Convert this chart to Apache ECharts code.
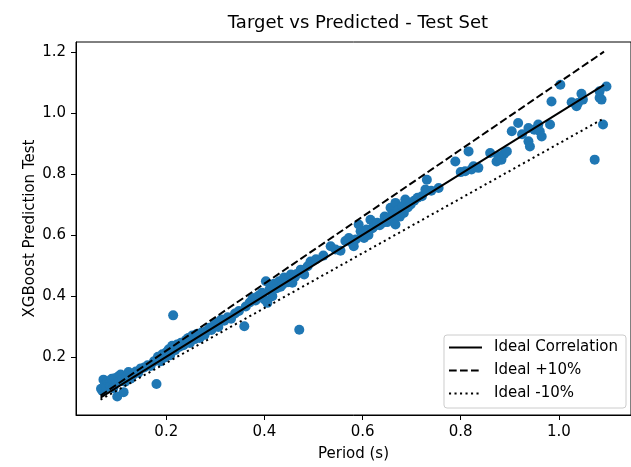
<!DOCTYPE html>
<html>
<head>
<meta charset="utf-8">
<script src="https://cdn.jsdelivr.net/npm/echarts@6/dist/echarts.min.js"></script>
<style>
  html, body { margin: 0; padding: 0; background: #fff; }
  #chart { width: 631px; height: 467px; }
</style>
</head>
<body>
<div id="chart"></div>
<script>
// Test-set samples: target period (s) and XGBoost prediction
const targetPeriod = [
  0.067, 0.070, 0.072, 0.075, 0.078, 0.080, 0.083, 0.086, 0.089, 0.092,
  0.095, 0.098, 0.100, 0.102, 0.105, 0.107, 0.110, 0.113, 0.116, 0.119,
  0.123, 0.127, 0.132, 0.138, 0.143, 0.148, 0.155, 0.162, 0.168, 0.175,
  0.180, 0.183, 0.188, 0.192, 0.197,
  0.200, 0.205, 0.208, 0.212, 0.214, 0.218, 0.222, 0.226, 0.230, 0.235,
  0.240, 0.245, 0.248, 0.253, 0.258, 0.262, 0.268, 0.272, 0.278, 0.282,
  0.288, 0.292, 0.298, 0.302, 0.306, 0.312, 0.318, 0.325, 0.332, 0.340,
  0.348, 0.359, 0.362, 0.370, 0.376, 0.382, 0.388, 0.395,
  0.400, 0.403, 0.406, 0.410, 0.416, 0.416, 0.420, 0.425, 0.430, 0.433,
  0.437, 0.440, 0.444, 0.448, 0.454, 0.457, 0.462, 0.466, 0.471, 0.474,
  0.478, 0.481, 0.488, 0.494,
  0.505, 0.520, 0.535, 0.545, 0.555, 0.565, 0.572, 0.578, 0.582, 0.586,
  0.592, 0.596, 0.600,
  0.603, 0.608, 0.612, 0.616, 0.620, 0.623, 0.630, 0.635, 0.640, 0.645,
  0.650, 0.653, 0.657, 0.660, 0.664, 0.667, 0.667, 0.672, 0.676, 0.681,
  0.684, 0.687, 0.692, 0.698,
  0.705, 0.712, 0.721, 0.728, 0.731, 0.740, 0.755, 0.789,
  0.800, 0.809, 0.816, 0.822, 0.826, 0.836, 0.860, 0.873, 0.877, 0.883,
  0.888, 0.894,
  0.904, 0.917, 0.925, 0.938, 0.938, 0.941, 0.950, 0.958, 0.961, 0.965,
  0.982, 0.985,
  1.003, 1.026, 1.036, 1.039, 1.046, 1.049, 1.073, 1.083, 1.083, 1.087,
  1.090, 1.097
];
const predictedPeriod = [
  0.095, 0.088, 0.125, 0.110, 0.100, 0.120, 0.112, 0.105, 0.128, 0.097,
  0.130, 0.115, 0.070, 0.135, 0.120, 0.142, 0.125, 0.084, 0.118, 0.135,
  0.150, 0.128, 0.140, 0.152, 0.148, 0.162, 0.165, 0.172, 0.170, 0.185,
  0.111, 0.200, 0.185, 0.208, 0.198,
  0.215, 0.225, 0.205, 0.236, 0.336, 0.222, 0.240, 0.232, 0.246, 0.238,
  0.255, 0.262, 0.245, 0.270, 0.258, 0.275, 0.262, 0.280, 0.272, 0.285,
  0.295, 0.288, 0.305, 0.312, 0.298, 0.322, 0.318, 0.330, 0.325, 0.342,
  0.350, 0.300, 0.365, 0.378, 0.393, 0.385, 0.400, 0.410,
  0.388, 0.448, 0.377, 0.420, 0.399, 0.431, 0.440, 0.425, 0.448, 0.430,
  0.437, 0.460, 0.453, 0.445, 0.470, 0.443, 0.462, 0.472, 0.289, 0.486,
  0.478, 0.470, 0.497, 0.513,
  0.520, 0.532, 0.563, 0.552, 0.548, 0.580, 0.590, 0.575, 0.563, 0.585,
  0.634, 0.612, 0.598,
  0.590, 0.618, 0.600, 0.650, 0.622, 0.628, 0.640, 0.632, 0.639, 0.660,
  0.642, 0.656, 0.689, 0.667, 0.650, 0.634, 0.705, 0.680, 0.660, 0.694,
  0.672, 0.716, 0.690, 0.700,
  0.712, 0.722, 0.727, 0.749, 0.781, 0.745, 0.754, 0.841,
  0.806, 0.809, 0.874, 0.815, 0.825, 0.820, 0.869, 0.841, 0.858, 0.847,
  0.865, 0.874,
  0.940, 0.967, 0.930, 0.951, 0.907, 0.890, 0.945, 0.962, 0.940, 0.923,
  0.962, 1.038,
  1.093, 1.035, 1.022, 1.033, 1.063, 1.044, 0.847, 1.050, 1.071, 1.044,
  0.962, 1.087
];

// Reference lines: end points over the target range
const lineX = [0.066, 1.092];
const idealY = [0.066, 1.092];
const plusTenY = [0.0726, 1.2012];
const minusTenY = [0.0594, 0.9828];

const xTicks = [0.2, 0.4, 0.6, 0.8, 1.0];
const yTicks = [0.2, 0.4, 0.6, 0.8, 1.0, 1.2];

const seriesNames = ['Ideal Correlation', 'Ideal +10%', 'Ideal -10%'];

const FONT = 'DejaVu Sans';
const pairs = (xs, ys) => xs.map((x, i) => [x, ys[i]]);

const chart = echarts.init(document.getElementById('chart'), null, { renderer: 'canvas' });

const tickAxis = (ticks, name, nameGap, range) => ({
  type: 'value',
  min: range[0],
  max: range[1],
  name: name,
  nameLocation: 'middle',
  nameGap: nameGap,
  nameMoveOverlap: false,
  nameTextStyle: { fontFamily: FONT, fontSize: 15, color: '#000' },
  axisLine: { show: true, lineStyle: { color: '#000', width: 1 } },
  axisTick: { show: true, length: 5, lineStyle: { color: '#000', width: 1 }, customValues: ticks },
  axisLabel: {
    fontFamily: FONT, fontSize: 15, color: '#000', margin: 10,
    customValues: ticks,
    formatter: v => Number(v).toFixed(1)
  },
  splitLine: { show: false }
});

chart.setOption({
  animation: false,
  backgroundColor: '#fff',
  title: {
    text: 'Target vs Predicted - Test Set',
    left: 353,
    textAlign: 'center',
    top: 9,
    textStyle: { fontFamily: FONT, fontSize: 18, fontWeight: 'normal', color: '#000' }
  },
  grid: {
    left: 76, right: -2, top: 42, bottom: 52,
    show: true, borderColor: '#000', borderWidth: 1, backgroundColor: 'transparent'
  },
  xAxis: tickAxis(xTicks, 'Period (s)', 32, [0.016, 1.147]),
  yAxis: tickAxis(yTicks, 'XGBoost Prediction Test', 38, [0.009, 1.233]),
  legend: {
    data: seriesNames,
    orient: 'vertical',
    right: 5,
    top: 335,
    padding: [5, 8, 7, 4],
    itemWidth: 33,
    itemHeight: 15,
    itemGap: 8,
    itemStyle: { opacity: 0 },
    backgroundColor: 'rgba(255,255,255,0.8)',
    borderColor: '#cccccc',
    borderWidth: 1,
    borderRadius: 3,
    textStyle: { fontFamily: FONT, fontSize: 15, color: '#000', padding: [0, 0, 0, 7] }
  },
  series: [
    {
      type: 'scatter',
      name: 'Test',
      data: pairs(targetPeriod, predictedPeriod),
      symbol: 'circle',
      symbolSize: 10,
      itemStyle: { color: '#1f77b4', opacity: 1 },
      z: 2
    },
    {
      type: 'line',
      name: seriesNames[0],
      data: pairs(lineX, idealY),
      symbol: 'none',
      lineStyle: { color: '#000', width: 2 },
      itemStyle: { color: '#000' },
      z: 3
    },
    {
      type: 'line',
      name: seriesNames[1],
      data: pairs(lineX, plusTenY),
      symbol: 'none',
      lineStyle: { color: '#000', width: 2, type: [7.7, 3.3], cap: 'butt' },
      itemStyle: { color: '#000' },
      z: 3
    },
    {
      type: 'line',
      name: seriesNames[2],
      data: pairs(lineX, minusTenY),
      symbol: 'none',
      lineStyle: { color: '#000', width: 2, type: [2.1, 3.4], cap: 'butt' },
      itemStyle: { color: '#000' },
      z: 3
    }
  ]
});
</script>
</body>
</html>
